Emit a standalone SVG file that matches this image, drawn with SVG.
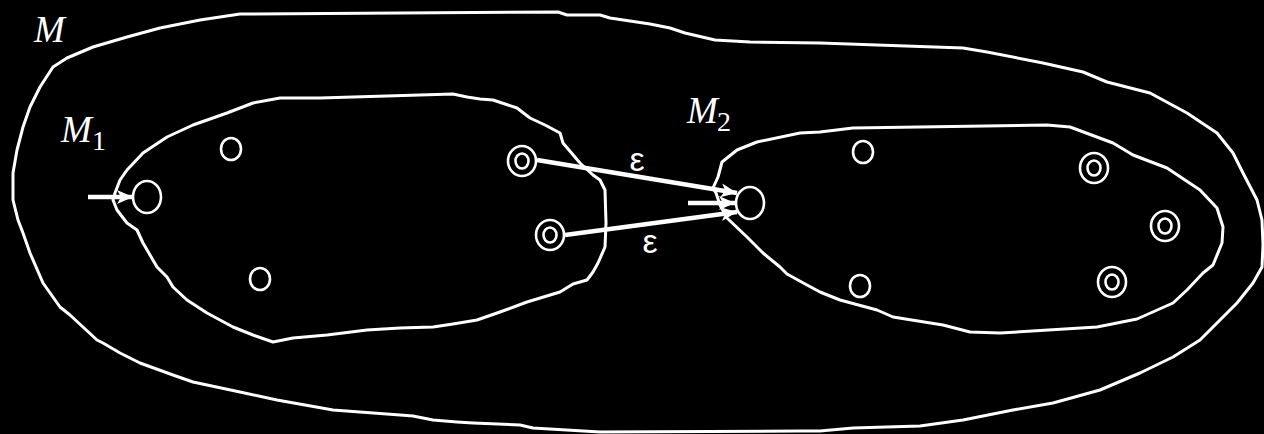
<svg xmlns="http://www.w3.org/2000/svg" width="1264" height="434" viewBox="0 0 1264 434">
<style>
.bd{fill:none;stroke:#fff;stroke-width:3;stroke-linejoin:round}
.st{fill:none;stroke:#fff;stroke-width:2.6}
.ar{fill:none;stroke:#fff;stroke-width:4.5}
.lbl{fill:#fff;font-family:"Liberation Serif",serif;font-style:italic;font-size:37px}
.sub{fill:#fff;font-family:"Liberation Serif",serif;font-size:28px}
.eps{fill:#fff;font-family:"Liberation Sans",sans-serif;font-size:34px;text-anchor:middle}
</style>
<defs>
<marker id="ah" markerUnits="userSpaceOnUse" viewBox="0 0 16 16" markerWidth="16" markerHeight="16" refX="16" refY="8" orient="auto">
<path d="M0,1 L16,8 L0,15 L4,8 Z" fill="#fff"/>
</marker>
</defs>
<rect width="1264" height="434" fill="#000"/>
<g id="M">
<path class="bd" d="M13,200 L13,173 17,150 23,127 30,107 40,87 53,67 67,58 93,47 127,37 160,28 200,20 240,14 L558,12 567,15 600,15 610,18 630,21 650,24 670,28 685,33 715,40 750,42 820,43 963,48 987,52 1043,63 1083,72 1107,82 1150,93 1187,113 1217,133 1233,153 1243,173 1257,200 1262,220 1263,245 1262,267 1253,283 1237,303 1220,320 1200,340 1173,357 1140,373 1100,390 1053,403 1013,410 963,420 920,426 853,428 820,431 800,431 600,432 533,428 520,425 473,423 457,422 433,420 413,416 400,415 333,410 277,400 240,392 193,382 173,375 140,363 120,353 103,343 97,340 70,315 60,307 43,283 30,253 23,233 18,220 Z"/>
<text class="lbl" x="34" y="42">M</text>
</g>
<g id="M1">
<path class="bd" d="M113,200 L115,193 120,180 127,170 143,153 167,137 193,125 227,113 253,103 280,98 320,98 453,94 467,97 480,99 493,100 502,103 517,108 530,118 545,125 560,133 563,143 580,163 593,175 600,180 605,190 606,223 605,247 598,263 593,272 587,280 573,284 560,292 527,302 500,312 477,320 453,324 433,327 400,328 367,330 327,335 293,338 273,342 253,335 233,327 220,320 207,313 187,300 173,287 167,277 157,267 143,243 137,230 127,223 117,210 Z"/>
<text class="lbl" x="61" y="142">M</text><text class="sub" x="92" y="150">1</text>
</g>
<g id="M2">
<path class="bd" d="M720,205 L716,193 713,188 718,177 722,162 737,150 757,142 800,133 820,132 853,128 1047,125 1070,127 1113,143 1133,155 1167,168 1200,190 1217,208 1223,227 1222,243 1213,265 1203,273 1187,290 1173,303 1137,319 1097,327 1000,333 970,332 943,325 893,317 877,310 840,300 820,292 807,285 787,274 780,267 763,253 747,237 727,218 Z"/>
<text class="lbl" x="687" y="123">M</text><text class="sub" x="717" y="131">2</text>
</g>
<g id="states">
<ellipse class="st" cx="147" cy="197" rx="14" ry="16"/>
<ellipse class="st" cx="231" cy="149" rx="10" ry="11"/>
<ellipse class="st" cx="260" cy="279" rx="10" ry="11"/>
<g id="acc1"><ellipse class="st" cx="522" cy="161" rx="14" ry="15"/><ellipse class="st" cx="522" cy="161" rx="6.5" ry="7.5"/></g>
<g id="acc2"><ellipse class="st" cx="550" cy="235" rx="14" ry="15"/><ellipse class="st" cx="550" cy="235" rx="6.5" ry="7.5"/></g>
<ellipse class="st" cx="750" cy="203" rx="14" ry="16"/>
<ellipse class="st" cx="863" cy="152" rx="10" ry="11"/>
<ellipse class="st" cx="860" cy="286" rx="10" ry="11"/>
<g id="acc3"><ellipse class="st" cx="1094" cy="168" rx="14" ry="15"/><ellipse class="st" cx="1094" cy="168" rx="6.5" ry="7.5"/></g>
<g id="acc4"><ellipse class="st" cx="1165" cy="226" rx="14" ry="15"/><ellipse class="st" cx="1165" cy="226" rx="6.5" ry="7.5"/></g>
<g id="acc5"><ellipse class="st" cx="1112" cy="282" rx="14" ry="15"/><ellipse class="st" cx="1112" cy="282" rx="6.5" ry="7.5"/></g>
</g>
<g id="connectors">
<line class="ar" x1="88" y1="197" x2="133" y2="197" marker-end="url(#ah)"/>
<line class="ar" x1="688" y1="203" x2="735" y2="203" marker-end="url(#ah)"/>
<line class="ar" x1="537" y1="160" x2="737" y2="193" marker-end="url(#ah)"/>
<line class="ar" x1="565" y1="235" x2="737" y2="212" marker-end="url(#ah)"/>
<text class="eps" x="637" y="171">ε</text>
<text class="eps" x="650" y="253">ε</text>
</g>
</svg>
